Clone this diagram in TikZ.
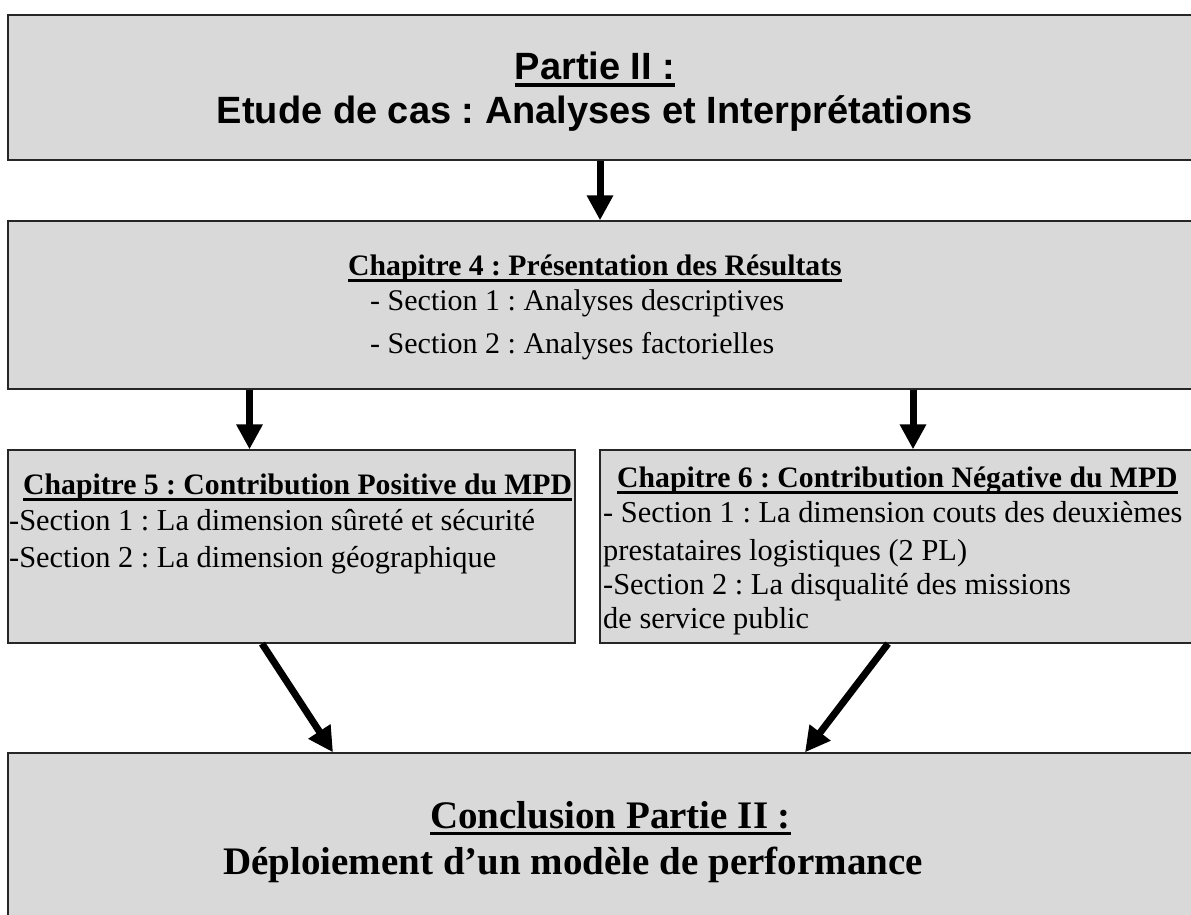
\documentclass[tikz,border=0pt]{standalone}
\usepackage{fontspec}
\setmainfont{Liberation Serif}
\setsansfont{Liberation Sans}
\usetikzlibrary{arrows.meta}
\frenchspacing

\definecolor{gris}{RGB}{217,217,217}
\newcommand\tgrand{\fontsize{38}{44}\selectfont}
\newcommand\tchap{\fontsize{29.7}{36}\selectfont}
\newcommand\tmoyen{\fontsize{30.4}{36}\selectfont}
\newcommand\tconcl{\fontsize{39}{45}\selectfont}

\tikzset{
  boite/.style={draw=black!85, line width=1.3pt, fill=gris},
  fleche/.style={line width=7pt, -{Triangle[length=25pt,width=25pt]}},
  texte/.style={inner sep=0pt, anchor=base west, font=\tmoyen},
  titre/.style={texte, font=\bfseries\tchap},
  souligne/.style={line width=3pt},
}

\begin{document}
\begin{tikzpicture}[x=1pt,y=-1pt]
\useasboundingbox (0,0) rectangle (1191,915);
\clip (0,0) rectangle (1191,915);

% cadres
\node[boite, minimum width=1184pt, minimum height=145pt] (partie) at (600,87.5) {};
\node[boite, minimum width=1184pt, minimum height=168pt] (chapquatre) at (600,305) {};
\node[boite, minimum width=567pt, minimum height=193pt] (chapcinq) at (291.5,546.5) {};
\node[boite, minimum width=592pt, minimum height=193pt] (chapsix) at (896,546.5) {};
\node[boite, minimum width=1184pt, minimum height=172pt] (conclusion) at (600,839) {};

% partie II
\node[texte, anchor=base, font=\sffamily\bfseries\tgrand] (tpartie) at (595,80) {Partie II :};
\node[texte, anchor=base, font=\sffamily\bfseries\tgrand] (tetude) at (595,124) {Etude de cas : Analyses et Interprétations};

% chapitre 4
\node[titre] (tquatre) at (348,275) {Chapitre 4 : Présentation des Résultats};
\node[texte, font=\fontsize{30}{36}\selectfont] (squatreun) at (370,310) {- Section 1 : Analyses descriptives};
\node[texte, font=\fontsize{30}{36}\selectfont] (squatredeux) at (370,353) {- Section 2 : Analyses factorielles};

% chapitre 5
\node[titre] (tcinq) at (23,494) {Chapitre 5 : Contribution Positive du MPD};
\node[texte] (scinqun) at (9,530) {-Section 1 : La dimension sûreté et sécurité};
\node[texte] (scinqdeux) at (9,567) {-Section 2 : La dimension géographique};

% chapitre 6
\node[titre] (tsix) at (617,487) {Chapitre 6 : Contribution Négative du MPD};
\node[texte] (ssixun) at (603,522) {- Section 1 : La dimension couts des deuxièmes};
\node[texte] (ssixunb) at (603,560) {prestataires logistiques (2 PL)};
\node[texte] (ssixdeux) at (603,594) {-Section 2 : La disqualité des missions};
\node[texte] (ssixdeuxb) at (603,628) {de service public};

% conclusion
\node[texte, font=\bfseries\tconcl] (tconclusion) at (430,828) {Conclusion Partie II :};
\node[texte, font=\bfseries\tconcl] (tdeploiement) at (223,874) {Déploiement d’un modèle de performance};

% soulignements
\draw[souligne, line width=3.5pt] ([yshift=-5pt]tpartie.base west) -- ([yshift=-5pt]tpartie.base east);
\foreach \n in {tquatre,tcinq,tsix,tconclusion}
  \draw[souligne] ([yshift=-5.5pt]\n.base west) -- ([yshift=-5.5pt]\n.base east);

% fleches
\coordinate (dcinq) at ([xshift=-42pt]chapcinq.north);
\coordinate (dsix) at ([xshift=17pt]chapsix.north);
\draw[fleche] (partie.south) -- (chapquatre.north);
\draw[fleche] (dcinq |- chapquatre.south) -- (dcinq);
\draw[fleche] (dsix |- chapquatre.south) -- (dsix);
\draw[fleche] ([xshift=-29.5pt]chapcinq.south) -- ([xshift=-267pt]conclusion.north);
\draw[fleche] ([xshift=-8pt]chapsix.south) -- ([xshift=205pt]conclusion.north);
\end{tikzpicture}
\end{document}
